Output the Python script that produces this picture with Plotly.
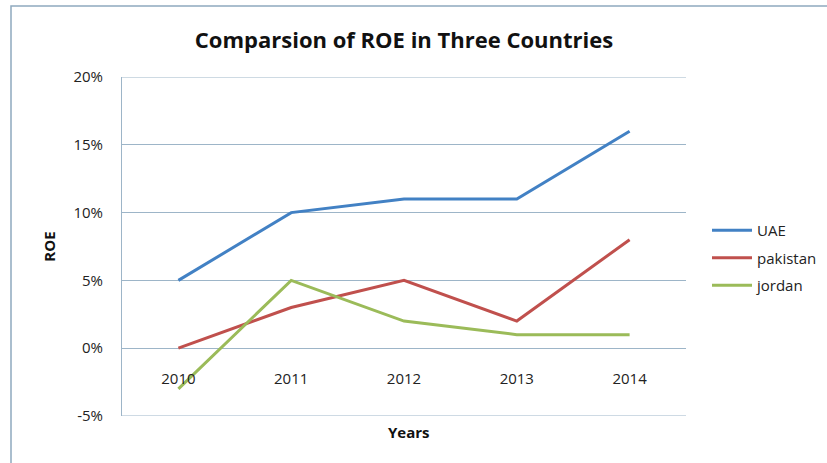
import plotly.graph_objects as go

years = ["2010", "2011", "2012", "2013", "2014"]
uae = [0.05, 0.10, 0.11, 0.11, 0.16]
pakistan = [0.00, 0.03, 0.05, 0.02, 0.08]
jordan = [-0.03, 0.05, 0.02, 0.01, 0.01]
y_ticks = [-0.05, 0.0, 0.05, 0.10, 0.15, 0.20]
y_tick_labels = ["-5%", "0%", "5%", "10%", "15%", "20%"]

series = [("UAE", uae, "#4281C4"), ("pakistan", pakistan, "#C0504D"), ("jordan", jordan, "#9BBB59")]

FONT = "Open Sans"
W, H = 827, 463
L, R, T, B = 122, 141, 77, 47
pw, ph = W - L - R, H - T - B
GRID = "#9DB5C8"

fig = go.Figure()
for name, vals, col in series:
    fig.add_trace(go.Scatter(x=years, y=vals, name=name, mode="lines", legendgroup=name,
                             line=dict(color=col, width=3)))

ymin, ymax = y_ticks[0], y_ticks[-1]
zero_pos = (0 - ymin) / (ymax - ymin)

fig.update_layout(
    width=W, height=H,
    margin=dict(l=L, r=R, t=T, b=B, autoexpand=False),
    paper_bgcolor="white", plot_bgcolor="white",
    font=dict(family=FONT, size=15, color="#222222"),
    title=dict(text="<b>Comparsion of ROE in Three Countries</b>", x=0.5, xanchor="center",
               xref="paper", y=1 - 40 / H, yanchor="middle",
               font=dict(family=FONT, size=22, color="#111111")),
    xaxis=dict(type="category", range=[-0.5, len(years) - 0.5], showgrid=False,
               showline=False, ticks="", anchor="free", position=zero_pos,
               ticklabelstandoff=20,
               tickfont=dict(family=FONT, size=15, color="#222222"), zeroline=False),
    yaxis=dict(range=[ymin, ymax], tickvals=y_ticks, ticktext=y_tick_labels,
               showgrid=True, gridcolor=GRID, gridwidth=1,
               showline=True, linecolor=GRID, linewidth=1,
               zeroline=False, ticks="", ticklen=0, ticklabelstandoff=15,
               tickfont=dict(family=FONT, size=15, color="#222222"),
               title=dict(text="<b>ROE</b>", standoff=14,
                          font=dict(family=FONT, size=15, color="#111111"))),
    legend=dict(x=(707 - L) / pw, xanchor="left", y=1 - (214 - T) / ph, yanchor="top",
                bgcolor="rgba(0,0,0,0)", font=dict(family=FONT, size=15, color="#222222"),
                itemwidth=40, tracegroupgap=5),
    showlegend=True,
)

# x-axis title
fig.add_annotation(text="<b>Years</b>", xref="paper", yref="paper", x=(409 - L) / pw,
                   y=-(432 - (H - B)) / ph, showarrow=False, xanchor="center", yanchor="middle",
                   font=dict(family=FONT, size=15, color="#111111"))

# top and bottom border lines of plot area (edge gridlines)
for yv in (ymin, ymax):
    fig.add_shape(type="line", xref="paper", yref="y", x0=0, x1=1, y0=yv, y1=yv,
                  line=dict(color=GRID, width=1))

# outer chart border
fig.add_shape(type="rect", xref="paper", yref="paper",
              x0=(11 - L) / pw, x1=(W + 20 - L) / pw,
              y0=-(H + 20 - (H - B)) / ph, y1=((H - B) - 6) / ph,
              line=dict(color="#8FA9BF", width=1.5), layer="below")

fig.write_html("out.html", config={"displayModeBar": False},
               post_script="document.body.style.margin='0';document.body.style.overflow='hidden';")
